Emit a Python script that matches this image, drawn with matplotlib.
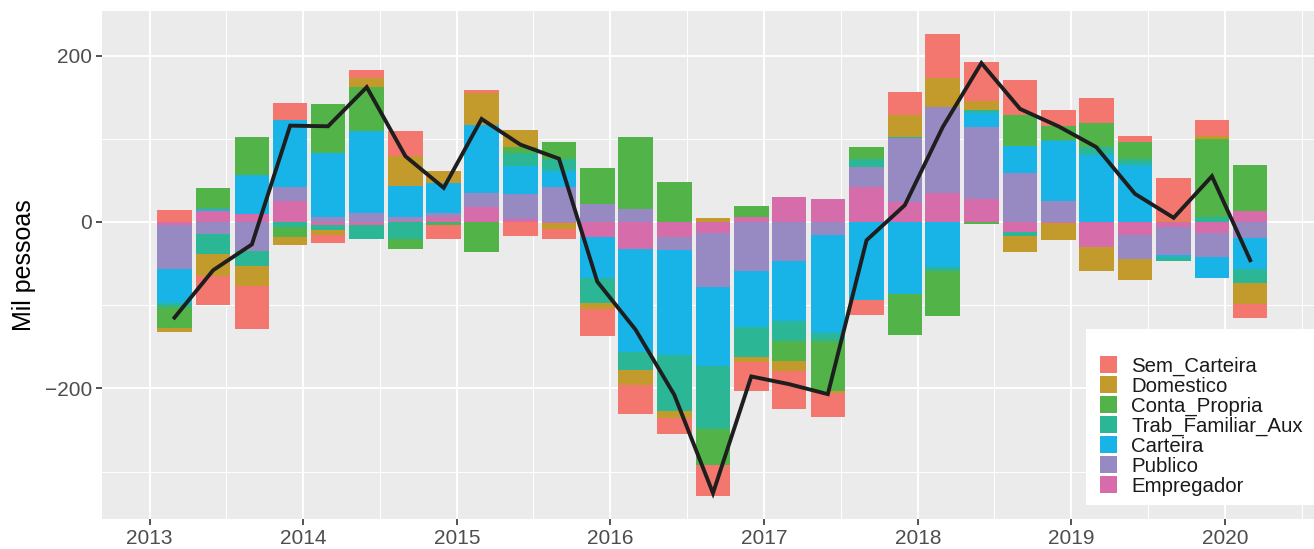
import numpy as np
import pandas as pd
import matplotlib
matplotlib.use("Agg")
import matplotlib.pyplot as plt
import matplotlib.dates as mdates
from matplotlib.patches import Rectangle, Patch

plt.rcParams['font.family'] = ['Liberation Sans', 'DejaVu Sans']

# quarterly changes (mil pessoas)
datas = pd.date_range("2013-03-01", periods=29, freq="3MS")

sem_carteira = [14, -35, -51.6, 20, -10, 9.6, 30, -16.8, 4, -17, -11.6, -32.4, -35, -19.3, -37,
                -35.7, -45.6, -28.8, -17.6, 28.8, 52.8, 48, 42.4, 19.2, 30, 7.2, 51.2, 19.2, -16.4]
domestico = [-4, -26, -24, -9.6, -5.6, 11, 36, 14.4, 38.4, 20.4, -8, -6.8, -18, -8, 4.4,
             -6, -12.8, -1.6, 0, 26, 36, 10.8, -19.2, -20.4, -28.8, -26, 1.2, 3.6, -25.6]
conta_propria = [-26, 26, 46, -12, 58, 53, -12, -3, -36, 6.4, 20.4, 43.2, 86.4, 47.6, -43.4,
                 13.2, -24, -61.2, 13.6, -48.8, -53.6, -2.8, 38, 16.8, 28.8, 20.4, 0, 93.2, 55.2]
trab_familiar = [-5, -24, -18.4, -6, -6, -17, -21, -1, 0, 16.4, 14.4, -30, -21.7, -67.5, -76.3,
                 -35.3, -23.6, -9.6, 10.4, 1.6, -5.6, 3.2, -4.8, 1, 9.6, 7.2, -4.8, 6, -16.8]
carteira = [-40, 2.4, 47, 80, 77.6, 98.4, 38.4, 35.6, 82.4, 33.6, 19.2, -49.6, -123, -126.5, -94.8,
            -68.3, -72, -117.2, -94, -86.8, -53.6, 17.2, 32.4, 72.4, 80, 68, -2.4, -25.2, -37.2]
publico = [-53, -15, -35, 17, 5.6, 10.8, 4.4, 4.8, 16.8, 29.2, 41.6, 21.2, 15.2, -14.9, -64.3,
           -58.4, -47, -15.8, 24, 76.8, 102.4, 86.4, 58.4, 24.8, 0, -28, -33.6, -29.2, -19.6]
empregador = [-4, 13, 9, 25.6, -4, -4, 1, 6, 17.6, 4, -1, -18, -33, -18.3, -13.5,
              5.6, 29.6, 27.2, 41.6, 23.6, 35.2, 27.2, -12.4, -1.6, -30.4, -16, -6.4, -13.2, 12.8]

total = [-115, -58, -27, 115.8, 115, 162, 79, 41, 123.8, 93, 76, -71.8, -129.5, -207.8, -326,
         -185.7, -195, -207, -22, 20.2, 114, 191, 135.8, 115, 90, 33.8, 5, 55, -46]

nomes = ["Sem_Carteira", "Domestico", "Conta_Propria", "Trab_Familiar_Aux",
         "Carteira", "Publico", "Empregador"]
series = [sem_carteira, domestico, conta_propria, trab_familiar, carteira, publico, empregador]
cores = ["#F4776F", "#C39A2C", "#52B448", "#2BB795", "#19B4E7", "#978AC2", "#D66CA9"]

W, H = 1314, 549
fig = plt.figure(figsize=(W / 100, H / 100), dpi=100)
# panel extends slightly past the right edge (cropped like the original)
ax = fig.add_axes([101.7 / W, (H - 519) / H, (1323 - 101.7) / W, (519 - 10.5) / H])
ax.set_facecolor("#EBEBEB")

x = mdates.date2num(datas)
pos = np.zeros(len(x))
neg = np.zeros(len(x))
# stack from zero outwards: last level closest to zero
for nome, vals, cor in reversed(list(zip(nomes, series, cores))):
    v = np.array(vals, dtype=float)
    base = np.where(v >= 0, pos, neg)
    ax.bar(x, v, width=82, bottom=base, color=cor, linewidth=0, zorder=2)
    pos = pos + np.where(v >= 0, v, 0)
    neg = neg + np.where(v < 0, v, 0)

ax.plot(x, total, color="#1E1E1E", lw=2.8, zorder=3, solid_joinstyle="miter")

# axes limits (ggplot-like 5% expansion)
x0 = x[0] - 41
x1 = x[-1] + 41
ax.set_xlim(x0 - 0.05 * (x1 - x0), x1 + 0.05 * (x1 - x0))
ymax, ymin = pos.max(), neg.min()
ax.set_ylim(ymin - 0.05 * (ymax - ymin), ymax + 0.05 * (ymax - ymin))

anos = pd.date_range("2013-01-01", "2020-01-01", freq="YS")
ax.set_xticks(mdates.date2num(anos))
ax.set_xticklabels([str(a.year) for a in anos])
meios = [mdates.date2num(pd.Timestamp(f"{a.year}-07-02")) for a in anos]
ax.set_xticks(meios, minor=True)
ax.set_yticks([-200, 0, 200])
ax.set_yticklabels(["\u2212200", "0", "200"])
ax.set_yticks([-300, -100, 100], minor=True)

ax.grid(which="major", color="white", lw=1.4, zorder=0)
ax.grid(which="minor", color="white", lw=0.7, zorder=0)
ax.set_axisbelow(True)
for s in ax.spines.values():
    s.set_visible(False)
ax.tick_params(which="major", length=4, width=1.2, color="#333333",
               labelsize=15, labelcolor="#4D4D4D", pad=3)
ax.tick_params(which="minor", length=0)
ax.set_ylabel("Mil pessoas", fontsize=18, color="black", labelpad=6)

# legend box
fig.patches.append(Rectangle((1086 / W, (H - 505) / H), (1314 - 1086) / W, 176 / H,
                             transform=fig.transFigure, facecolor="white",
                             edgecolor="none", zorder=5))
handles = [Patch(facecolor=c, edgecolor="none") for c in cores]
leg = fig.legend(handles, nomes, loc="upper left", bbox_to_anchor=(1100 / W, (H - 356) / H),
                 frameon=False, fontsize=14.7, handlelength=0.83, handleheight=0.9,
                 labelspacing=0.02, handletextpad=0.7, borderpad=0, borderaxespad=0)
leg.set_zorder(6)
for t in leg.get_texts():
    t.set_color("#1A1A1A")

fig.savefig("out.png", dpi=100)
